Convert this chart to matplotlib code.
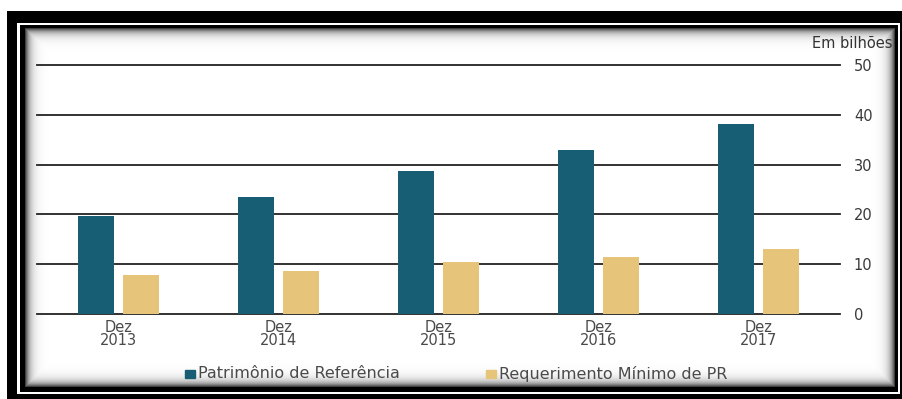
import numpy as np
import matplotlib
matplotlib.use("Agg")
import matplotlib.pyplot as plt
from matplotlib.patches import Rectangle

plt.rcParams['font.family'] = ['DejaVu Sans']

# data (R$ billions)
categories = ["Dez\n2013", "Dez\n2014", "Dez\n2015", "Dez\n2016", "Dez\n2017"]
patrimonio = [19.7, 23.5, 28.8, 33.0, 38.2]
requerimento = [7.9, 8.7, 10.5, 11.5, 13.0]
series_names = ["Patrimônio de Referência", "Requerimento Mínimo de PR"]
y_ticks = [0, 10, 20, 30, 40, 50]

teal = "#175E74"
gold = "#E6C47A"
W, H = 903, 399

fig = plt.figure(figsize=(W / 100, H / 100), dpi=100)

# picture frame drawn as a background image (black border + inner shadow)
frame = np.ones((H, W))
frame[11:, 7:] = 0.0
frame[23:394, 17:900] = 1.0
frame[25:392, 20:898] = 0.0
yy, xx = np.mgrid[28:387, 25:895]
d = np.minimum.reduce([xx - 25, 894 - xx, yy - 28, 386 - yy]).astype(float)
frame[28:387, 25:895] = 1 - 0.75 * np.exp(-d / 4.5)
bg = fig.add_axes([0, 0, 1, 1], zorder=0)
bg.imshow(frame, cmap="gray", vmin=0, vmax=1, aspect="auto", interpolation="nearest")
bg.axis("off")

ax = fig.add_axes([37 / W, 1 - 314 / H, (840 - 37) / W, (314 - 65) / H], zorder=1)
ax.set_facecolor("none")

x = np.arange(len(categories))
width = 0.225
off = 0.14
ax.bar(x - off, patrimonio, width, color=teal, zorder=3)
ax.bar(x + off, requerimento, width, color=gold, zorder=3)

ax.set_xlim(-0.51, 4.51)
ax.set_ylim(0, 50)
ax.set_yticks(y_ticks)
for t in y_ticks:
    ax.axhline(t, color="#222222", lw=1.3, zorder=2, clip_on=False)

ax.yaxis.tick_right()
ax.tick_params(axis="y", length=0, pad=10, labelsize=10.5, labelcolor="#3a3a3a")
ax.set_xticks(x)
ax.set_xticklabels(categories, fontsize=10.5, color="#4a4a4a", linespacing=0.9)
ax.tick_params(axis="x", length=0, pad=4)
for s in ax.spines.values():
    s.set_visible(False)

fig.text(893 / W, 1 - 44 / H, "Em bilhões", ha="right", va="center",
         fontsize=10.5, color="#333333")

# legend drawn by hand to match the spacing
leg_y = 1 - 374 / H
for lx, col, name in [(185, teal, series_names[0]), (486, gold, series_names[1])]:
    fig.patches.append(Rectangle((lx / W, leg_y - 4 / H), 10 / W, 8 / H,
                                 color=col, transform=fig.transFigure))
    fig.text((lx + 13) / W, leg_y, name, ha="left", va="center",
             fontsize=11.5, color="#4a4a4a")

fig.savefig("out.png", dpi=100)
